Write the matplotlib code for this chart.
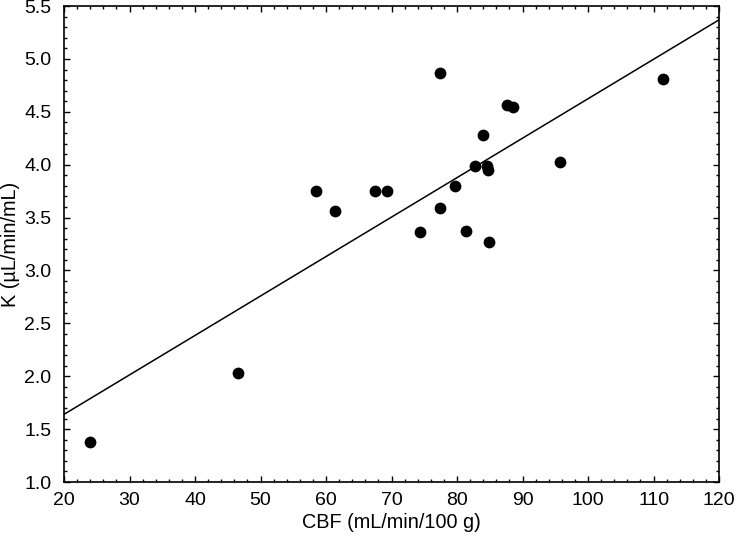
import matplotlib
matplotlib.use("Agg")
import matplotlib.pyplot as plt
from matplotlib.ticker import MultipleLocator, FormatStrFormatter

plt.rcParams['font.family'] = ['Liberation Sans', 'DejaVu Sans']

cbf = [23.9, 46.6, 58.4, 61.4, 67.5, 69.3, 74.3, 77.4, 77.4, 79.7, 81.3,
       82.8, 83.9, 84.5, 84.8, 84.9, 87.6, 88.6, 95.7, 111.4]
k = [1.38, 2.03, 3.75, 3.56, 3.75, 3.75, 3.36, 4.87, 3.59, 3.80, 3.37,
     3.99, 4.28, 3.99, 3.95, 3.27, 4.56, 4.55, 4.03, 4.81]
fit_x = [20, 120]
fit_y = [1.64, 5.37]

xlabel = "CBF (mL/min/100 g)"
ylabel = "K (\u00b5L/min/mL)"

fig = plt.figure(figsize=(7.36, 5.36), dpi=100)
ax = fig.add_axes([0.087, 0.1007, 0.890, 0.888])

ax.plot(fit_x, fit_y, color='black', lw=1.1, zorder=2)
ax.scatter(cbf, k, s=72, color='black', zorder=3, linewidths=0)

ax.set_xlim(20, 120)
ax.set_ylim(1.0, 5.5)
ax.xaxis.set_major_locator(MultipleLocator(10))
ax.xaxis.set_minor_locator(MultipleLocator(2))
ax.yaxis.set_major_locator(MultipleLocator(0.5))
ax.yaxis.set_minor_locator(MultipleLocator(0.1))
ax.yaxis.set_major_formatter(FormatStrFormatter('%.1f'))

ax.tick_params(which='both', direction='in', top=True, right=True, labelsize=14)
ax.tick_params(which='major', length=4, width=1)
ax.tick_params(which='minor', length=2, width=1)
ax.tick_params(axis='x', which='major', pad=7)
ax.tick_params(axis='y', which='major', pad=9)
for sp in ax.spines.values():
    sp.set_linewidth(1.2)

ax.set_xlabel(xlabel, fontsize=14.3)
ax.set_ylabel(ylabel, fontsize=14.3)
ax.xaxis.set_label_coords(0.5, -0.084)
ax.yaxis.set_label_coords(-0.082, 0.5)
ax.xaxis.label.set_va('center')
ax.yaxis.label.set_va('center')

fig.savefig("out.png", dpi=100)
